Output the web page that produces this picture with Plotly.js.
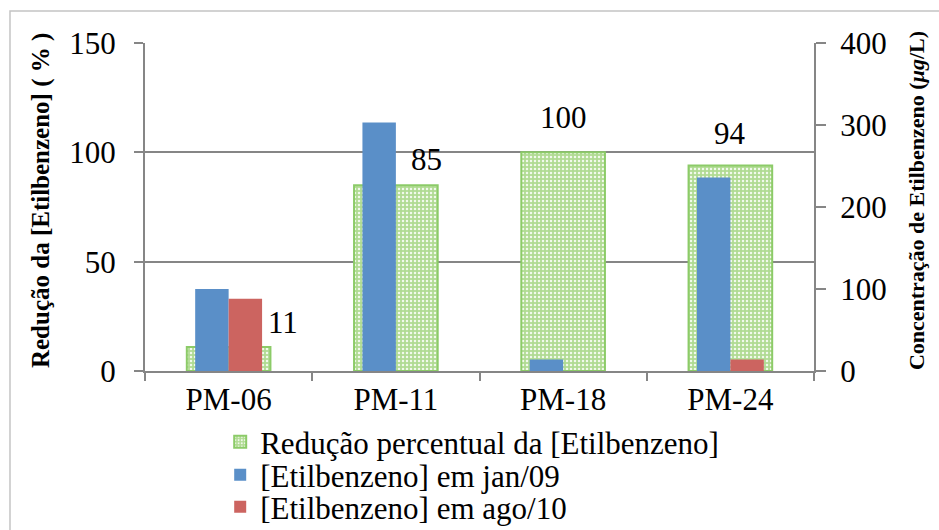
<!DOCTYPE html>
<html>
<head>
<meta charset="utf-8">
<script src="https://cdn.plot.ly/plotly-3.0.1.min.js"></script>
<style>html,body{margin:0;padding:0;background:#fff;}#chart{width:939px;height:530px;}</style>
</head>
<body>
<div id="chart"></div>
<script>
const categories = ["PM-06", "PM-11", "PM-18", "PM-24"];
const reducaoPct = [11, 85, 100, 94];
const etilJan09 = [100, 303, 14, 236];
const etilAgo10 = [88, 0, 0, 14];
const seriesNames = ["Redução percentual da [Etilbenzeno]", "[Etilbenzeno] em jan/09", "[Etilbenzeno] em ago/10"];
const leftTicks = [0, 50, 100, 150];
const rightTicks = [0, 100, 200, 300, 400];
const leftTitle = "<b>Redução da [Etilbenzeno] ( % )</b>";
const rightTitle = "<b>Concentração de Etilbenzeno (<i>μg</i>/L)</b>";
const labelShifts = [[54, 24], [31, 26], [0, 35], [0, 32]];

const F = "Liberation Serif, Times New Roman, serif";
const axisGray = "#868686";
const FS = 31;

const traces = [
  {
    type: "bar", x: categories, y: reducaoPct, name: seriesNames[0],
    width: 0.5, offset: -0.25, yaxis: "y", legend: "legend",
    marker: {
      color: "#b2dc96",
      line: {color: "#8ccb68", width: 2},
      pattern: {shape: ".", fillmode: "replace", bgcolor: "#b0db93", fgcolor: "#f2faec", size: 4, solidity: 0.3}
    },
    hoverinfo: "skip"
  },
  {
    type: "bar", x: categories, y: etilJan09, name: seriesNames[1],
    width: 0.2, offset: -0.2, yaxis: "y2", legend: "legend2",
    marker: {color: "#5a8fc8", line: {width: 0}}, hoverinfo: "skip"
  },
  {
    type: "bar", x: categories, y: etilAgo10, name: seriesNames[2],
    width: 0.2, offset: 0, yaxis: "y2", legend: "legend3",
    marker: {color: "#cc6460", line: {width: 0}}, hoverinfo: "skip"
  }
];

const annotations = categories.map((c, i) => ({
  x: c, y: reducaoPct[i], xref: "x", yref: "y",
  text: String(reducaoPct[i]), showarrow: false,
  xshift: labelShifts[i][0], yshift: labelShifts[i][1],
  font: {family: F, size: FS, color: "#000"}
}));
annotations.push({
  xref: "paper", yref: "paper", x: -0.1555, y: 0.521, xanchor: "center", yanchor: "middle",
  text: leftTitle, textangle: -90, showarrow: false,
  font: {family: F, size: 25, color: "#000"}
});
annotations.push({
  xref: "paper", yref: "paper", x: 1.1525, y: 0.518, xanchor: "center", yanchor: "middle",
  text: rightTitle, textangle: -90, showarrow: false,
  font: {family: F, size: 22, color: "#000"}
});

const legendBase = {
  xref: "container", yref: "container",
  xanchor: "left", yanchor: "middle", x: 0.2345,
  font: {family: F, size: FS, color: "#000"},
  bgcolor: "rgba(0,0,0,0)", borderwidth: 0
};

const layout = {
  width: 939, height: 530,
  margin: {l: 145, r: 125, t: 43, b: 159, autoexpand: false},
  paper_bgcolor: "#fff", plot_bgcolor: "#fff",
  font: {family: F, size: FS, color: "#000"},
  showlegend: true,
  barmode: "overlay",
  xaxis: {
    type: "category", range: [-0.5, 3.5],
    showline: true, linecolor: axisGray, linewidth: 2,
    ticks: "outside", tickson: "boundaries", ticklen: 8, tickcolor: axisGray, tickwidth: 2,
    tickfont: {family: F, size: FS, color: "#000"},
    showgrid: false, zeroline: false, fixedrange: true
  },
  yaxis: {
    range: [0, 150], tickvals: leftTicks, ticktext: leftTicks.map(String),
    showline: true, linecolor: axisGray, linewidth: 2,
    ticks: "outside", ticklen: 9, tickcolor: axisGray, tickwidth: 2, ticklabelstandoff: 12,
    showgrid: true, gridcolor: axisGray, gridwidth: 2, zeroline: false,
    tickfont: {family: F, size: FS, color: "#000"}
  },
  yaxis2: {
    overlaying: "y", side: "right",
    range: [0, 400], tickvals: rightTicks, ticktext: rightTicks.map(String),
    showline: true, linecolor: axisGray, linewidth: 2,
    ticks: "outside", ticklen: 10, tickcolor: axisGray, tickwidth: 2, ticklabelstandoff: 8,
    showgrid: false, zeroline: false,
    tickfont: {family: F, size: FS, color: "#000"}
  },
  legend: Object.assign({}, legendBase, {y: 0.166}),
  legend2: Object.assign({}, legendBase, {y: 0.1038}),
  legend3: Object.assign({}, legendBase, {y: 0.0434}),
  annotations: annotations,
  shapes: [{
    type: "rect", xref: "paper", yref: "paper",
    x0: -0.2018, x1: 1.6, y0: -1.2, y1: 1.0976,
    line: {color: "#c4c4c4", width: 1.5}, layer: "below"
  }]
};

Plotly.newPlot("chart", traces, layout, {displayModeBar: false, staticPlot: true});
</script>
</body>
</html>
